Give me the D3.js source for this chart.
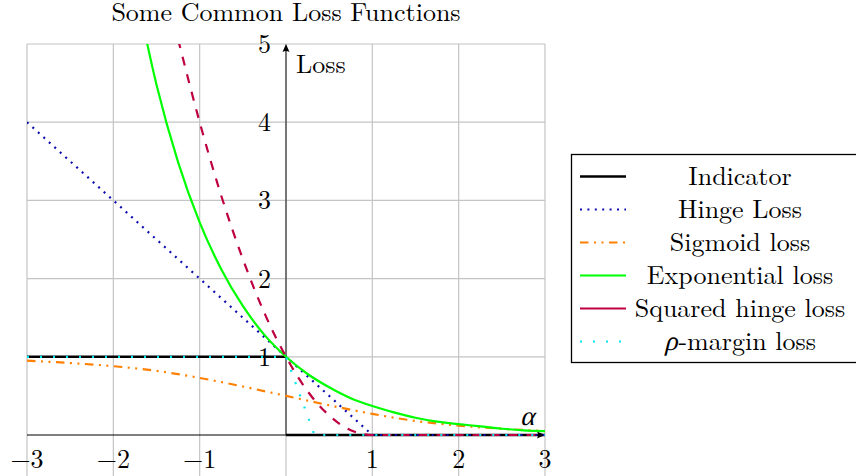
<!DOCTYPE html>
<html>
<head>
<meta charset="utf-8" />
<title>Some Common Loss Functions</title>
<style>
html, body {
  margin: 0;
  padding: 0;
  background: #fff;
}
</style>
</head>
<body>
<svg id="chart" width="856" height="476"></svg>

<script src="https://cdnjs.cloudflare.com/ajax/libs/d3/7.8.5/d3.min.js"></script>
<script>

// ticks
var xTicks = [-3, -2, -1, 1, 2, 3];
var yTicks = [1, 2, 3, 4, 5];
var gridX = [-3, -2, -1, 0, 1, 2, 3];
var gridY = [1, 2, 3, 4, 5];

// series (alpha, loss)
var indicatorAlphaNeg = [-3, 0];
var indicatorLossNeg  = [1, 1];
var indicatorAlphaPos = [0, 3];
var indicatorLossPos  = [0, 0];

var hingeAlpha = [-3, 1, 3];
var hingeLoss  = [4, 0, 0];

var sigmoidAlpha = [-3, -2.5, -2, -1.5, -1, -0.5, 0, 0.5, 1, 1.5, 2, 2.5, 3];
var sigmoidLoss  = [0.95, 0.92, 0.88, 0.82, 0.73, 0.62, 0.50, 0.38, 0.27, 0.18, 0.12, 0.08, 0.05];

var expAlpha = [-1.75, -1.5, -1.25, -1, -0.75, -0.5, -0.25, 0, 0.25, 0.5, 0.75, 1, 1.25, 1.5, 1.75, 2, 2.25, 2.5, 2.75, 3];
var expLoss  = [5.75, 4.48, 3.49, 2.72, 2.12, 1.65, 1.28, 1.00, 0.78, 0.61, 0.47, 0.37, 0.29, 0.22, 0.17, 0.14, 0.11, 0.08, 0.06, 0.05];

var sqHingeAlpha = [-1.25, -1, -0.75, -0.5, -0.25, 0, 0.25, 0.5, 0.75, 1, 2, 3];
var sqHingeLoss  = [5.06, 4, 3.06, 2.25, 1.56, 1, 0.56, 0.25, 0.06, 0, 0, 0];

var rhoAlpha = [-3, 0, 0.33, 3];
var rhoLoss  = [1, 1, 0, 0];

var legendLabels = ["Indicator", "Hinge Loss", "Sigmoid loss", "Exponential loss", "Squared hinge loss", "-margin loss"];

var serif = "'Latin Modern Roman', 'Liberation Serif', serif";
// no italic serif face for greek, so slant an upright one
var greek = "'Liberation Serif', 'Noto Serif CJK SC', serif";

function zip(a, b) {
	return a.map(function(v, i) { return [v, b[i]]; });
}

function greekItalic(parent, ch, px, py, anchor) {
	return parent.append("text")
		.attr("transform", "translate(" + px + "," + py + ") skewX(-14)")
		.attr("text-anchor", anchor)
		.style("font-family", greek)
		.style("font-style", "normal")
		.style("font-size", "27px")
		.text(ch);
}

var svg = d3.select("#chart");

var x = d3.scaleLinear().domain([-3, 3]).range([27, 545]);
var y = d3.scaleLinear().domain([0, 5]).range([435, 44]);

// title
svg.append("text")
	.attr("x", 286)
	.attr("y", 21)
	.attr("text-anchor", "middle")
	.style("font-family", serif)
	.style("font-size", "26px")
	.text("Some Common Loss Functions");

// grid
svg.append("g").selectAll("line")
	.data(gridX)
	.enter().append("line")
	.attr("x1", function(d) { return x(d); })
	.attr("x2", function(d) { return x(d); })
	.attr("y1", y(5))
	.attr("y2", 476)
	.attr("stroke", "#c4c4c4")
	.attr("stroke-width", 1.2);

svg.append("g").selectAll("line")
	.data(gridY)
	.enter().append("line")
	.attr("x1", x(-3))
	.attr("x2", x(3))
	.attr("y1", function(d) { return y(d); })
	.attr("y2", function(d) { return y(d); })
	.attr("stroke", "#c4c4c4")
	.attr("stroke-width", 1.2);

// axes (middle)
svg.append("line")
	.attr("x1", x(-3)).attr("x2", x(3) - 2)
	.attr("y1", y(0)).attr("y2", y(0))
	.attr("stroke", "#000").attr("stroke-width", 1.2);
svg.append("line")
	.attr("x1", x(0)).attr("x2", x(0))
	.attr("y1", y(0)).attr("y2", y(5) + 2)
	.attr("stroke", "#333").attr("stroke-width", 1.2);

// arrow heads
svg.append("path")
	.attr("d", "M" + x(3) + "," + y(0) + "l-8,-3.5q2,3.5 0,7z")
	.attr("fill", "#000");
svg.append("path")
	.attr("d", "M" + x(0) + "," + y(5) + "l-3.5,8q3.5,-2 7,0z")
	.attr("fill", "#000");

// tick labels
svg.append("g").selectAll("text")
	.data(xTicks)
	.enter().append("text")
	.attr("x", function(d) { return x(d); })
	.attr("y", 468)
	.attr("text-anchor", "middle")
	.style("font-family", serif)
	.style("font-size", "26px")
	.text(function(d) { return d < 0 ? "\u2212" + Math.abs(d) : d; });

svg.append("g").selectAll("text")
	.data(yTicks)
	.enter().append("text")
	.attr("x", 271)
	.attr("y", function(d) { return y(d) + 9; })
	.attr("text-anchor", "end")
	.style("font-family", serif)
	.style("font-size", "26px")
	.text(function(d) { return d; });

svg.append("text")
	.attr("x", 296)
	.attr("y", 73)
	.style("font-family", serif)
	.style("font-size", "26px")
	.text("Loss");

greekItalic(svg, "\u03b1", 527, 425, "middle");

// curves
svg.append("clipPath").attr("id", "plotClip")
	.append("rect")
	.attr("x", x(-3)).attr("y", y(5))
	.attr("width", x(3) - x(-3)).attr("height", y(0) - y(5) + 6);

var plot = svg.append("g").attr("clip-path", "url(#plotClip)");

var straight = d3.line()
	.x(function(d) { return x(d[0]); })
	.y(function(d) { return y(d[1]); });

var smooth = d3.line()
	.x(function(d) { return x(d[0]); })
	.y(function(d) { return y(d[1]); })
	.curve(d3.curveMonotoneX);

var series = [
	{ pts: [zip(indicatorAlphaNeg, indicatorLossNeg), zip(indicatorAlphaPos, indicatorLossPos)], gen: straight, color: "#000", dash: null, width: 2.4 },
	{ pts: [zip(hingeAlpha, hingeLoss)], gen: straight, color: "#0c0cae", dash: "2 5.4", width: 2.2 },
	{ pts: [zip(sigmoidAlpha, sigmoidLoss)], gen: smooth, color: "#ff8000", dash: "8.5 5.5 2 5.5 2 5.5", width: 2.2 },
	{ pts: [zip(expAlpha, expLoss)], gen: smooth, color: "#00ff00", dash: null, width: 2.2 },
	{ pts: [zip(sqHingeAlpha, sqHingeLoss)], gen: smooth, color: "#bf0040", dash: "9 9", width: 2.2 },
	{ pts: [zip(rhoAlpha, rhoLoss)], gen: straight, color: "#00e5ee", dash: "2 11", width: 2.2 }
];

series.forEach(function(s) {
	s.pts.forEach(function(p) {
		plot.append("path")
			.attr("d", s.gen(p))
			.attr("fill", "none")
			.attr("stroke", s.color)
			.attr("stroke-width", s.width)
			.attr("stroke-dasharray", s.dash);
	});
});

// legend
var legend = svg.append("g");
legend.append("rect")
	.attr("x", 571.5).attr("y", 154.5)
	.attr("width", 310).attr("height", 208)
	.attr("fill", "#fff")
	.attr("stroke", "#000")
	.attr("stroke-width", 1.3);

series.forEach(function(s, i) {
	var ly = 176.5 + i * 33;
	legend.append("line")
		.attr("x1", 580).attr("x2", 626)
		.attr("y1", ly).attr("y2", ly)
		.attr("stroke", s.color)
		.attr("stroke-width", s.width)
		.attr("stroke-dasharray", i === 4 ? null : s.dash);
	var t = legend.append("text")
		.attr("x", 740)
		.attr("y", ly + 8)
		.attr("text-anchor", "middle")
		.style("font-family", serif)
		.style("font-size", "26px")
		.text(legendLabels[i]);
	if (i === 5) {
		// rho glyph set in front of the label, whole thing centred
		var rho = greekItalic(legend, "\u03c1", 0, ly + 8, "start");
		var rw = rho.node().getComputedTextLength();
		var tw = t.node().getComputedTextLength();
		var left = 740 - (rw + tw + 1) / 2;
		rho.attr("transform", "translate(" + left + "," + (ly + 8) + ") skewX(-14)");
		t.attr("text-anchor", "start").attr("x", left + rw + 1);
	}
});

</script>
</body>
</html>
